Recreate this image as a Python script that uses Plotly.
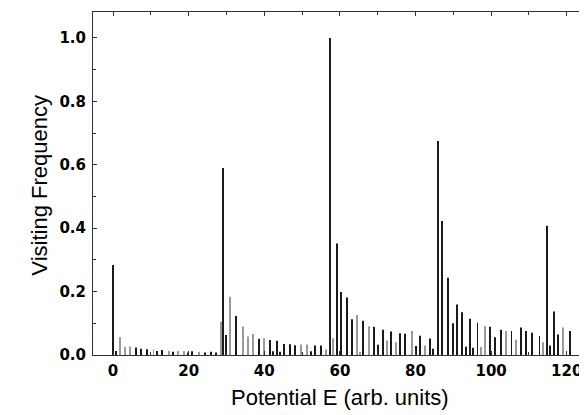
import plotly.graph_objects as go

# energy levels (arb. units) and visiting frequency
black_E = [0.0, 0.9, 6.1, 7.5, 9.1, 11.7, 13.0, 15.9, 19.8, 21.0, 24.3, 25.8, 27.2,
           29.0, 29.9, 32.6, 38.5, 41.4, 42.4, 43.4, 44.2, 45.2, 46.7, 48.2, 52.4, 53.3, 55.0,
           57.4, 59.2, 60.4, 61.8, 63.1, 66.2, 69.1, 70.2, 71.3, 73.6, 75.9, 77.3,
           80.2, 81.3, 83.8, 84.7, 85.9, 86.9, 88.6, 89.8, 91.0, 92.4, 93.3, 94.5, 95.3,
           96.4, 99.8, 101.1, 102.5, 105.4, 107.8, 109.2, 110.8, 112.8, 114.7, 115.7,
           116.6, 117.8, 120.8]
black_freq = [0.284, 0.013, 0.024, 0.020, 0.018, 0.013, 0.016, 0.010, 0.008, 0.012, 0.008, 0.010, 0.008,
              0.590, 0.063, 0.123, 0.051, 0.047, 0.012, 0.045, 0.010, 0.035, 0.034, 0.031, 0.012, 0.030, 0.030,
              1.000, 0.352, 0.199, 0.181, 0.113, 0.108, 0.089, 0.032, 0.080, 0.074, 0.069, 0.067,
              0.028, 0.061, 0.052, 0.020, 0.675, 0.423, 0.244, 0.100, 0.159, 0.135, 0.026, 0.114, 0.023,
              0.102, 0.089, 0.056, 0.080, 0.076, 0.087, 0.076, 0.070, 0.060, 0.408, 0.030,
              0.137, 0.065, 0.076]

gray_E = [1.8, 3.1, 4.5, 10.7, 14.8, 17.2, 18.7, 22.8, 28.6, 30.9, 34.3, 35.6, 37.0,
          39.9, 49.7, 51.2, 56.4, 58.3, 64.5, 65.3, 67.6, 72.4, 74.8, 79.0, 82.4, 97.4,
          98.3, 104.0, 106.5, 113.8, 119.0]
gray_freq = [0.057, 0.025, 0.027, 0.018, 0.013, 0.013, 0.013, 0.010, 0.105, 0.184, 0.090, 0.058, 0.066,
             0.053, 0.033, 0.033, 0.017, 0.053, 0.126, 0.010, 0.091, 0.046, 0.040, 0.076, 0.030, 0.025,
             0.091, 0.076, 0.048, 0.040, 0.087]

x_ticks = [0, 20, 40, 60, 80, 100, 120]
y_ticks = [0.0, 0.2, 0.4, 0.6, 0.8, 1.0]

fig = go.Figure()
fig.add_trace(go.Bar(x=gray_E, y=gray_freq, width=0.25,
                     marker=dict(color="#9a9a9a", line=dict(width=0))))
fig.add_trace(go.Bar(x=black_E, y=black_freq, width=0.25,
                     marker=dict(color="#1a1a1a", line=dict(width=0))))

tickfont = dict(family="DejaVu Sans", size=15, color="black", weight="bold")
# page body has an 8px margin, so the margins are shifted to compensate
fig.update_layout(
    width=587, height=415,
    margin=dict(l=85, r=9, t=4, b=68),
    paper_bgcolor="white", plot_bgcolor="white",
    barmode="overlay", showlegend=False,
    font=dict(family="Liberation Sans", color="black"),
    annotations=[
        dict(text="Potential E (arb. units)", xref="paper", yref="paper",
             x=0.501, y=-0.125, xanchor="center", yanchor="middle",
             showarrow=False, font=dict(size=22)),
        dict(text="Visiting Frequency", xref="paper", yref="paper",
             x=-0.108, y=0.496, xanchor="center", yanchor="middle",
             textangle=-90, showarrow=False, font=dict(size=22)),
    ],
)
fig.update_xaxes(range=[-5.3, 125.1], tickvals=x_ticks, ticks="inside", ticklen=4,
                 tickcolor="#333", tickfont=tickfont, showgrid=False, zeroline=False,
                 showline=True, linecolor="#333", linewidth=1, mirror="ticks",
                 ticklabelstandoff=2,
                 minor=dict(dtick=10, tick0=0, ticks="inside", ticklen=3, tickcolor="#333"))
fig.update_yaxes(range=[0, 1.082], tickvals=y_ticks, tickformat=".1f", ticks="inside", ticklen=4,
                 tickcolor="#333", tickfont=tickfont, showgrid=False, zeroline=False,
                 showline=True, linecolor="#333", linewidth=1, mirror="ticks",
                 ticklabelstandoff=3,
                 minor=dict(dtick=0.1, tick0=0, ticks="inside", ticklen=3, tickcolor="#333"))

fig.write_html("out.html")
